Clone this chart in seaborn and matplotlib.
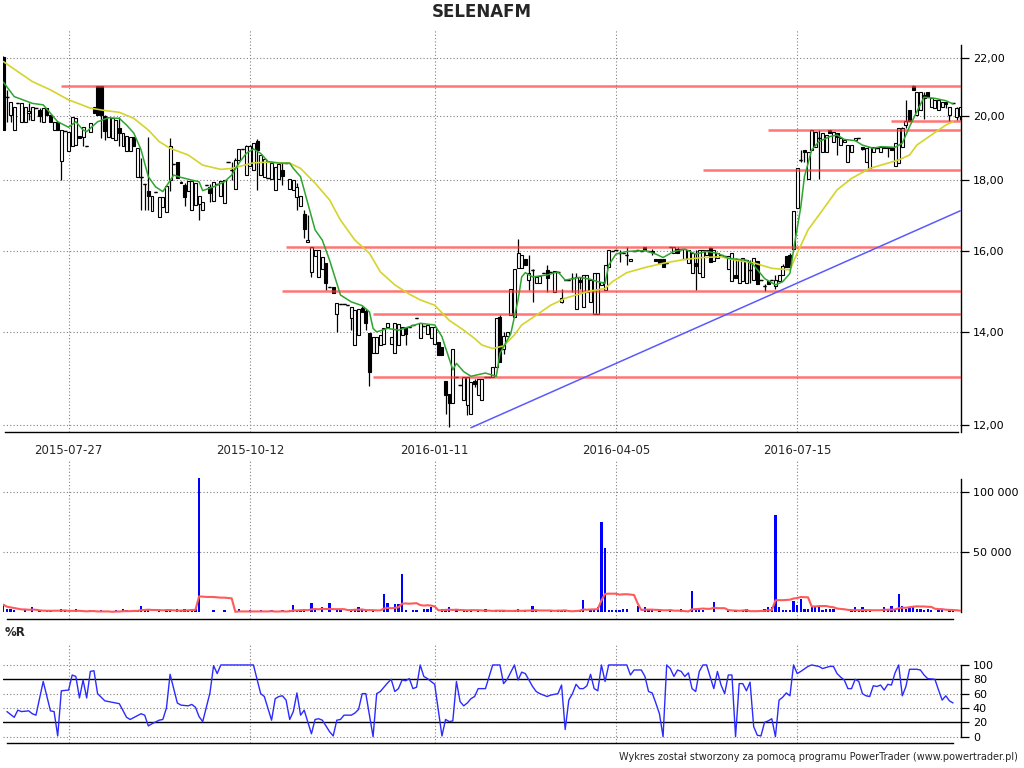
import numpy as np
import pandas as pd
import matplotlib
matplotlib.use("Agg")
import matplotlib.pyplot as plt
from matplotlib.ticker import NullLocator
import seaborn as sns

# ---- session data (one entry per trading session on the chart) ----
opens = [
    22.06, 20.64, 20.03, 19.54, 20.42, 19.81, 19.81, 20.10, 19.87, 20.28,
    20.20, 19.81, 20.28, 20.03, 19.54, 19.81, 18.56, 19.50, 18.87, 19.02,
    19.07, 19.35, 19.31, 19.02, 19.49, 20.31, 21.02, 21.02, 20.00, 19.31,
    19.28, 19.23, 19.60, 19.02, 18.87, 18.87, 19.31, 18.07, 18.07, 17.86,
    17.67, 17.10, 17.64, 16.93, 17.20, 17.07, 18.00, 18.46, 18.53, 17.90,
    17.85, 17.67, 17.12, 17.27, 17.30, 17.12, 17.85, 17.80, 17.37, 17.86,
    17.53, 17.33, 18.53, 18.30, 17.74, 18.60, 18.93, 18.14, 18.41, 18.29,
    19.19, 18.14, 18.09, 18.06, 18.01, 17.70, 18.01, 18.30, 18.50, 17.72,
    17.70, 17.50, 17.23, 17.00, 16.23, 15.46, 15.87, 15.33, 15.52, 15.68,
    15.07, 15.07, 14.43, 14.67, 14.65, 14.63, 14.32, 13.70, 13.93, 14.57,
    14.50, 13.98, 13.53, 13.51, 13.70, 13.73, 14.11, 13.73, 13.53, 13.70,
    13.93, 14.10, 14.12, 14.15, 14.32, 13.87, 14.14, 13.96, 13.85, 13.73,
    13.77, 13.66, 12.91, 12.64, 12.45, 13.00, 12.82, 12.52, 12.41, 12.22,
    12.90, 12.61, 12.52, 13.00, 13.00, 13.00, 13.21, 14.34, 13.60, 13.90,
    14.39, 14.35, 15.55, 15.55, 15.78, 15.25, 15.51, 15.17, 15.17, 15.44,
    15.50, 15.46, 14.96, 15.46, 14.72, 15.25, 15.25, 15.30, 14.55, 15.25,
    14.59, 14.96, 14.72, 14.42, 14.43, 15.13, 15.00, 15.59, 16.00, 16.02,
    15.95, 15.95, 15.90, 15.74, 15.99, 16.02, 16.00, 16.10, 16.00, 16.00,
    15.80, 15.80, 15.78, 15.70, 16.10, 15.94, 16.05, 16.05, 15.80, 15.69,
    15.44, 15.70, 15.42, 15.32, 15.89, 16.07, 15.73, 15.82, 15.90, 15.88,
    15.54, 15.22, 15.37, 15.18, 15.22, 15.18, 15.50, 15.26, 15.73, 15.26,
    15.10, 15.22, 15.26, 15.10, 15.22, 15.37, 15.86, 15.90, 16.06, 17.17,
    18.60, 18.90, 18.03, 18.90, 19.01, 19.30, 18.85, 18.85, 19.54, 19.17,
    19.43, 19.06, 19.17, 18.54, 18.85, 19.22, 19.28, 19.00, 18.54, 18.34,
    18.85, 18.96, 18.83, 19.01, 19.01, 19.01, 18.40, 18.50, 19.01, 19.70,
    20.20, 21.02, 20.03, 20.20, 20.70, 20.82, 20.31, 20.25, 20.20, 20.31,
    20.45, 20.03, 20.42, 19.98, 20.00,
]
highs = [
    22.10, 20.87, 20.46, 20.31, 20.42, 20.42, 20.31, 20.42, 20.31, 20.28,
    20.28, 20.25, 20.28, 20.03, 19.81, 19.81, 19.54, 19.50, 19.49, 19.98,
    19.92, 19.35, 19.63, 19.02, 19.78, 20.31, 21.02, 21.02, 20.03, 19.98,
    19.92, 19.87, 19.98, 19.44, 19.35, 19.31, 19.31, 18.97, 18.66, 17.88,
    19.31, 17.53, 17.64, 17.48, 17.48, 17.81, 19.30, 18.46, 18.53, 17.95,
    17.90, 17.97, 17.97, 17.90, 17.53, 17.34, 17.85, 17.88, 17.93, 17.86,
    17.97, 18.00, 18.53, 18.53, 18.65, 18.93, 18.93, 19.05, 19.05, 19.12,
    19.25, 18.75, 18.62, 18.06, 18.50, 18.39, 18.48, 18.50, 18.50, 18.01,
    17.99, 17.89, 17.52, 17.12, 16.98, 16.11, 16.03, 16.03, 15.85, 15.68,
    15.07, 15.07, 14.69, 14.67, 14.65, 14.63, 14.59, 14.51, 14.55, 14.60,
    14.55, 13.98, 13.89, 13.89, 13.93, 14.08, 14.21, 13.89, 14.20, 14.18,
    14.12, 14.12, 14.12, 14.15, 14.32, 14.20, 14.14, 14.15, 14.12, 14.12,
    13.77, 13.66, 12.91, 12.64, 13.62, 13.00, 12.82, 13.00, 13.00, 12.89,
    12.96, 12.96, 12.96, 13.00, 13.00, 13.21, 14.32, 14.40, 14.00, 14.00,
    15.02, 15.52, 16.31, 15.89, 15.80, 15.89, 15.52, 15.33, 15.35, 15.44,
    15.63, 15.46, 15.49, 15.46, 15.02, 15.25, 15.25, 15.42, 15.42, 15.33,
    15.38, 15.38, 15.25, 15.42, 15.44, 15.21, 15.63, 16.02, 16.00, 16.02,
    16.03, 15.95, 16.10, 15.80, 15.99, 16.02, 16.00, 16.10, 16.00, 16.05,
    15.80, 15.80, 15.78, 15.70, 16.10, 16.10, 16.10, 16.05, 16.05, 16.02,
    15.94, 16.02, 16.03, 16.03, 16.03, 16.10, 16.03, 15.94, 15.90, 15.88,
    15.86, 15.94, 15.82, 15.77, 15.82, 15.77, 15.77, 15.82, 15.73, 15.26,
    15.14, 15.22, 15.26, 15.39, 15.39, 15.66, 15.86, 15.94, 17.08, 18.34,
    18.92, 18.92, 18.85, 19.54, 19.49, 19.54, 19.43, 19.38, 19.54, 19.49,
    19.43, 19.28, 19.22, 19.06, 19.06, 19.28, 19.28, 19.01, 18.96, 19.01,
    19.01, 18.96, 19.01, 19.01, 19.01, 19.01, 19.12, 19.60, 19.65, 20.55,
    20.20, 21.05, 20.82, 20.82, 20.82, 20.82, 20.60, 20.53, 20.53, 20.48,
    20.48, 20.31, 20.42, 20.30, 20.31,
]
lows = [
    19.54, 19.81, 19.81, 19.54, 20.42, 19.81, 19.81, 19.87, 19.87, 20.28,
    19.81, 19.81, 20.03, 19.81, 19.54, 19.54, 17.99, 19.50, 18.87, 19.02,
    19.07, 19.27, 19.02, 19.02, 19.49, 20.11, 20.03, 19.28, 19.23, 19.31,
    19.28, 19.23, 19.02, 19.02, 18.87, 18.87, 19.02, 18.07, 17.12, 17.12,
    17.12, 17.10, 17.64, 16.93, 17.20, 17.07, 17.67, 18.46, 18.04, 17.90,
    17.25, 17.67, 17.12, 17.27, 16.84, 17.12, 17.85, 17.34, 17.37, 17.86,
    17.53, 17.33, 18.53, 18.00, 17.74, 18.60, 18.93, 18.14, 18.41, 18.29,
    17.70, 18.14, 18.09, 18.06, 18.01, 17.70, 18.01, 17.85, 18.50, 17.72,
    17.70, 17.12, 17.23, 16.34, 16.23, 15.33, 15.87, 15.33, 15.52, 15.00,
    15.07, 14.92, 14.00, 14.67, 14.65, 14.63, 14.04, 13.70, 13.93, 14.47,
    14.04, 12.80, 13.53, 13.51, 13.70, 13.73, 14.11, 13.73, 13.53, 13.70,
    13.93, 13.70, 14.12, 14.15, 14.32, 13.87, 14.14, 13.96, 13.85, 13.73,
    13.47, 13.47, 12.23, 11.97, 12.45, 13.00, 12.82, 12.52, 12.20, 12.22,
    12.78, 12.61, 12.52, 13.00, 13.00, 13.00, 13.21, 13.32, 13.50, 13.90,
    14.39, 14.35, 15.55, 15.55, 15.63, 15.00, 14.72, 15.17, 15.17, 15.44,
    14.96, 15.46, 14.96, 15.46, 14.69, 15.25, 15.25, 14.96, 14.55, 15.04,
    14.59, 14.96, 14.72, 14.42, 14.43, 15.13, 15.00, 15.59, 16.00, 16.02,
    15.72, 15.95, 15.63, 15.74, 15.99, 16.02, 16.00, 16.02, 16.00, 15.90,
    15.74, 15.70, 15.59, 15.70, 16.10, 15.94, 15.96, 16.05, 15.80, 15.69,
    15.44, 15.00, 15.42, 15.32, 15.89, 15.72, 15.73, 15.82, 15.90, 15.88,
    15.54, 15.22, 15.30, 15.18, 15.22, 15.18, 15.18, 15.26, 15.14, 15.26,
    14.98, 15.14, 15.26, 15.02, 15.22, 15.37, 15.58, 15.58, 16.06, 17.17,
    18.54, 18.54, 18.03, 18.90, 19.01, 18.01, 18.85, 18.85, 19.45, 19.17,
    18.75, 19.06, 19.17, 18.54, 18.85, 19.22, 19.28, 18.90, 18.54, 18.34,
    18.85, 18.96, 18.83, 18.96, 18.70, 18.90, 18.40, 18.50, 19.01, 19.60,
    19.82, 20.88, 20.03, 20.20, 19.90, 20.63, 20.31, 20.25, 20.20, 20.31,
    20.25, 19.85, 20.42, 19.87, 19.87,
]
closes = [
    19.54, 20.64, 20.46, 20.31, 20.42, 20.42, 20.31, 20.15, 20.31, 20.28,
    20.00, 20.25, 20.03, 19.81, 19.81, 19.54, 19.54, 19.50, 19.49, 19.98,
    19.92, 19.27, 19.63, 19.02, 19.78, 20.11, 20.03, 20.03, 19.50, 19.98,
    19.92, 19.87, 19.45, 19.44, 19.35, 19.31, 19.02, 18.97, 18.07, 17.86,
    17.53, 17.53, 17.64, 17.48, 17.48, 17.81, 19.02, 18.46, 18.04, 17.93,
    17.50, 17.97, 17.97, 17.90, 17.53, 17.34, 17.85, 17.60, 17.93, 17.86,
    17.97, 17.99, 18.53, 18.30, 18.60, 18.93, 18.93, 19.03, 19.03, 19.12,
    18.91, 18.75, 18.62, 18.06, 18.50, 18.39, 18.48, 18.10, 18.50, 18.01,
    17.99, 17.80, 17.52, 16.60, 16.29, 16.11, 16.03, 16.03, 15.85, 15.17,
    15.07, 14.92, 14.69, 14.67, 14.65, 14.63, 14.59, 14.51, 14.55, 14.47,
    14.20, 13.10, 13.89, 13.89, 13.93, 14.08, 14.21, 13.89, 14.20, 14.18,
    14.12, 13.95, 14.12, 14.15, 14.32, 14.20, 14.14, 14.15, 14.12, 14.12,
    13.47, 13.47, 12.61, 12.44, 13.62, 13.00, 12.82, 13.00, 13.00, 12.89,
    12.85, 12.96, 12.96, 13.00, 13.00, 13.21, 14.32, 13.32, 13.90, 14.00,
    15.02, 15.52, 15.96, 15.89, 15.63, 15.44, 15.51, 15.33, 15.35, 15.44,
    15.30, 15.46, 15.49, 15.46, 14.80, 15.25, 15.25, 15.30, 15.33, 15.20,
    15.38, 15.38, 15.25, 15.42, 15.44, 15.21, 15.63, 16.02, 16.00, 16.02,
    15.95, 15.95, 15.90, 15.80, 15.99, 16.02, 16.00, 16.02, 16.00, 15.98,
    15.74, 15.70, 15.59, 15.70, 16.10, 16.10, 15.96, 16.05, 16.05, 16.02,
    15.94, 15.60, 16.03, 16.03, 16.03, 15.72, 16.03, 15.94, 15.90, 15.88,
    15.86, 15.94, 15.30, 15.77, 15.82, 15.77, 15.50, 15.82, 15.14, 15.26,
    15.10, 15.14, 15.26, 15.26, 15.39, 15.62, 15.58, 15.58, 17.08, 18.34,
    18.60, 18.83, 18.85, 19.54, 19.49, 19.30, 19.43, 19.38, 19.45, 19.49,
    19.33, 19.28, 19.22, 19.06, 19.06, 19.28, 19.28, 18.95, 18.96, 19.01,
    19.01, 18.96, 19.01, 18.96, 18.96, 18.90, 19.12, 19.60, 19.60, 19.85,
    19.82, 20.88, 20.82, 20.82, 20.60, 20.63, 20.60, 20.53, 20.53, 20.48,
    20.40, 20.31, 20.42, 20.25, 20.30,
]
volumes = [
    6400, 3000, 3000, 2200, 0, 0, 2200, 0, 4200, 0,
    2200, 0, 2200, 2200, 0, 0, 3000, 2200, 0, 0,
    3000, 0, 0, 0, 2200, 0, 0, 2200, 0, 0,
    0, 2200, 0, 3000, 2200, 0, 2200, 2200, 5600, 2200,
    2200, 0, 0, 2200, 0, 2200, 2200, 0, 3000, 2200,
    3000, 2200, 3000, 3000, 112000, 0, 0, 0, 2200, 0,
    0, 2200, 0, 0, 0, 3000, 0, 0, 2200, 0,
    0, 2200, 0, 0, 2200, 0, 0, 2200, 0, 2200,
    6400, 2200, 2200, 2200, 0, 7800, 2200, 0, 4200, 0,
    7800, 0, 2200, 2200, 0, 0, 2200, 3000, 4200, 2200,
    2200, 0, 2200, 0, 0, 15500, 7800, 0, 7200, 7200,
    32000, 2200, 0, 2200, 2200, 0, 3000, 3000, 4500, 0,
    0, 3000, 2200, 4200, 0, 2200, 0, 2200, 2200, 2200,
    0, 2200, 0, 3000, 0, 0, 2200, 2200, 2200, 0,
    0, 2200, 3000, 0, 2200, 0, 5600, 2200, 0, 0,
    0, 2200, 0, 2200, 2200, 2200, 0, 0, 2200, 2200,
    10500, 0, 2200, 3000, 4200, 75000, 54000, 2200, 2200, 2200,
    2200, 3000, 3000, 0, 0, 5000, 0, 4200, 2200, 3000,
    0, 2200, 0, 0, 2200, 0, 0, 3000, 0, 0,
    18000, 3000, 3000, 2200, 0, 0, 8300, 0, 0, 0,
    2200, 0, 2200, 0, 2200, 3000, 0, 0, 0, 2200,
    3000, 4200, 4200, 81000, 4200, 2200, 2200, 2200, 9700, 6400,
    11000, 3000, 3000, 5000, 4200, 5000, 2200, 3000, 3000, 3000,
    0, 0, 0, 0, 2200, 4200, 2200, 4200, 2200, 2200,
    0, 0, 0, 4200, 2200, 5600, 3000, 15500, 5000, 3000,
    4200, 4200, 3000, 3000, 2200, 3000, 2200, 0, 2200, 2200,
    0, 2200, 2200, 0, 0,
]

# date labels under the price panel (session index -> date)
tick_bars = [18, 68, 119, 169, 219]
tick_labels = ["2015-07-27", "2015-10-12", "2016-01-11", "2016-04-05", "2016-07-15"]

# moving averages (session index, price)
fast_ma_bars = [0, 3, 8, 11, 13, 15, 18, 20, 22, 23, 26, 29, 32, 34, 36, 38, 40, 42, 44, 47,
                49, 52, 54, 55, 58, 61, 63, 65, 67, 69, 71, 73, 76, 79, 80, 82, 84, 86, 88, 90,
                92, 93, 96, 99, 101, 102, 103, 106, 109, 112, 115, 119, 121, 124, 125, 127, 129, 133, 136, 137,
                140, 142, 143, 144, 146, 150, 153, 155, 159, 162, 164, 166, 167, 169, 172, 177, 180, 182, 185, 188,
                191, 194, 197, 200, 205, 207, 210, 213, 215, 217, 218, 220, 221, 223, 225, 228, 230, 232, 235, 237,
                240, 242, 246, 248, 250, 252, 254, 257, 260, 262]
fast_ma = [21.15, 20.65, 20.42, 20.37, 20.09, 19.81, 19.63, 19.81, 19.54, 19.49,
           19.81, 19.94, 19.92, 19.70, 19.44, 18.91, 18.09, 17.79, 17.65, 18.14,
           18.07, 17.99, 17.94, 17.68, 17.79, 17.94, 18.14, 18.50, 18.80, 18.94,
           18.80, 18.55, 18.50, 18.50, 18.34, 18.09, 17.31, 16.57, 16.29, 15.76,
           15.17, 14.88, 14.71, 14.62, 14.47, 14.08, 14.00, 14.08, 14.04, 14.12,
           14.20, 14.16, 13.89, 13.15, 13.29, 13.11, 13.01, 13.08, 13.01, 13.51,
           13.96, 14.76, 15.33, 15.44, 15.33, 15.38, 15.46, 15.25, 15.32, 15.27,
           15.21, 15.17, 15.63, 15.92, 15.99, 16.01, 15.92, 15.83, 15.99, 16.05,
           15.92, 15.99, 15.94, 15.81, 15.76, 15.63, 15.29, 15.13, 15.21, 15.42,
           16.03, 17.21, 18.09, 18.91, 19.17, 19.33, 19.38, 19.24, 19.20, 19.06,
           18.96, 19.01, 18.99, 19.12, 19.65, 20.14, 20.63, 20.59, 20.51, 20.40]
slow_ma_bars = [0, 4, 8, 13, 18, 21, 24, 28, 32, 36, 40, 43, 46, 51, 55, 60, 63, 69, 73, 79,
                82, 86, 90, 93, 97, 101, 104, 108, 112, 115, 119, 123, 127, 130, 132, 135, 138, 141, 143, 147,
                151, 155, 158, 162, 166, 168, 172, 177, 182, 188, 193, 198, 202, 207, 212, 217, 219, 222, 226, 230,
                234, 239, 244, 247, 250, 252, 256, 260, 262]
slow_ma = [21.88, 21.52, 21.17, 20.88, 20.54, 20.40, 20.26, 20.18, 20.12, 19.92,
           19.54, 19.17, 18.96, 18.75, 18.44, 18.31, 18.34, 18.51, 18.53, 18.50,
           18.34, 17.90, 17.41, 16.84, 16.29, 15.94, 15.46, 15.13, 14.90, 14.76,
           14.63, 14.27, 14.04, 13.85, 13.70, 13.62, 13.68, 13.93, 14.16, 14.39,
           14.63, 14.80, 14.88, 14.98, 15.04, 15.21, 15.44, 15.57, 15.68, 15.78,
           15.83, 15.85, 15.76, 15.69, 15.55, 15.51, 15.94, 16.57, 17.12, 17.70,
           18.04, 18.34, 18.50, 18.60, 18.75, 19.06, 19.38, 19.70, 19.81]

# support / resistance levels: price and the session they start from
level_prices = [21.0, 19.85, 19.54, 18.3, 16.1, 14.97, 14.41, 12.99]
level_start = [16, 245, 211, 193, 78, 77, 102, 102]

# trend line (session index, price)
trend_bars = [129, 264]
trend_prices = [11.95, 17.1]

# Williams %R
wr_bars = [1, 3, 4, 5, 7, 8, 9, 11, 13, 14,
           15, 16, 18, 19, 20, 21, 22, 23, 24, 25,
           26, 28, 31, 32, 34, 35, 38, 39, 40, 41,
           43, 44, 45, 46, 48, 49, 51, 52, 53, 54,
           55, 57, 58, 59, 60, 69, 71, 72, 74, 75,
           76, 77, 78, 79, 80, 81, 82, 83, 85, 86,
           87, 88, 90, 91, 92, 93, 94, 96, 97, 98,
           99, 100, 102, 103, 104, 106, 107, 108, 109, 110,
           111, 112, 113, 114, 115, 116, 117, 118, 119, 121,
           122, 123, 124, 125, 126, 127, 128, 129, 130, 131,
           133, 135, 137, 138, 139, 141, 142, 143, 144, 146,
           147, 148, 150, 151, 153, 154, 155, 156, 157, 158,
           159, 160, 161, 162, 163, 164, 165, 166, 167, 169,
           171, 172, 173, 174, 176, 177, 178, 179, 180, 181,
           182, 183, 184, 185, 186, 187, 188, 189, 190, 191,
           192, 193, 194, 196, 197, 198, 199, 200, 201, 202,
           203, 204, 205, 206, 207, 208, 209, 210, 211, 212,
           213, 214, 215, 216, 217, 218, 219, 220, 222, 223,
           225, 226, 228, 229, 230, 231, 232, 233, 234, 235,
           236, 237, 238, 239, 240, 241, 242, 243, 244, 245,
           246, 247, 248, 249, 250, 252, 253, 254, 255, 257,
           258, 259, 260, 261, 262]
wr_vals = [35, 27, 37, 35, 36, 32, 30, 77, 36, 35,
           1, 64, 65, 86, 84, 54, 79, 54, 91, 92,
           60, 50, 47, 46, 27, 24, 32, 30, 15, 18,
           23, 24, 40, 87, 47, 44, 43, 45, 41, 28,
           21, 61, 99, 88, 100, 100, 60, 56, 23, 53,
           56, 57, 51, 24, 35, 61, 30, 37, 4, 24,
           25, 23, 7, 1, 23, 24, 30, 30, 33, 38,
           60, 60, 0, 60, 63, 75, 80, 63, 67, 79,
           78, 81, 67, 69, 100, 84, 81, 77, 73, 1,
           24, 21, 22, 77, 49, 43, 47, 53, 56, 67,
           67, 100, 100, 74, 80, 100, 79, 90, 88, 70,
           63, 60, 56, 58, 60, 72, 10, 51, 60, 73,
           67, 67, 71, 87, 67, 64, 100, 77, 100, 100,
           100, 100, 86, 93, 93, 84, 63, 61, 47, 32,
           0, 100, 95, 84, 93, 91, 84, 89, 67, 63,
           91, 100, 100, 67, 91, 72, 60, 86, 86, 0,
           74, 74, 64, 76, 14, 2, 1, 20, 22, 25,
           0, 51, 55, 61, 57, 100, 88, 91, 98, 100,
           98, 95, 98, 98, 88, 83, 79, 67, 67, 80,
           77, 60, 57, 56, 71, 70, 72, 65, 73, 72,
           89, 100, 57, 70, 94, 94, 93, 86, 81, 80,
           65, 51, 57, 50, 47]

# ---- styling ----
sns.set_style("white")
plt.rcParams["font.family"] = ["DejaVu Sans"]

GRID = dict(color="#808080", linestyle=(0, (1, 2)), linewidth=0.8)
n = len(closes)
idx = np.arange(n)
x_left, x_right = -0.1, n - 0.8

fig = plt.figure(figsize=(10.24, 7.68), dpi=100)
ax = fig.add_axes([0.0029, 0.4375, 0.9356, 0.5234])
ax_v = fig.add_axes([0.0029, 0.1936, 0.9356, 0.2061])
ax_r = fig.add_axes([0.0029, 0.0322, 0.9356, 0.1280])


def setup_panel(a):
    a.set_xlim(x_left, x_right)
    a.set_xticks(tick_bars)
    a.grid(True, **GRID)
    a.set_axisbelow(True)
    a.spines["top"].set_visible(False)
    a.spines["left"].set_visible(False)
    for s in ("right", "bottom"):
        a.spines[s].set_color("black")
        a.spines[s].set_linewidth(1.0)
    a.yaxis.set_ticks_position("right")
    a.tick_params(axis="y", which="major", direction="out", length=5.5, width=0.9,
                  pad=3, labelsize=8, colors="black", right=True, left=False)
    a.tick_params(axis="x", length=0)
    a.set_xlabel("")
    a.set_ylabel("")


# ---- price panel ----
ax.set_yscale("log")
o, h, l, c = map(np.array, (opens, highs, lows, closes))
up = c >= o
ax.vlines(idx, l, h, color="black", linewidth=0.9, zorder=3)
ax.bar(idx, np.abs(c - o), bottom=np.minimum(o, c), width=0.8,
       color=np.where(up, "white", "black"), edgecolor="black", linewidth=0.8, zorder=4)
flat = c == o
ax.hlines(c[flat], idx[flat] - 0.45, idx[flat] + 0.45, color="black", linewidth=1.0, zorder=4)

ax.hlines(level_prices, level_start, x_right, colors="#ff3b3b", linewidth=1.8, alpha=0.7, zorder=5)
sns.lineplot(x=trend_bars, y=trend_prices, ax=ax, color="#5a5aff", linewidth=1.1,
             estimator=None, sort=False, zorder=5)
sns.lineplot(x=slow_ma_bars, y=slow_ma, ax=ax, color="#d4d42c", linewidth=1.2,
             estimator=None, sort=False, zorder=6)
sns.lineplot(x=fast_ma_bars, y=fast_ma, ax=ax, color="#2ea52e", linewidth=1.1,
             estimator=None, sort=False, zorder=6)

setup_panel(ax)
ax.set_ylim(11.866, 23.05)
price_ticks = [12, 14, 16, 18, 20, 22]
ax.set_yticks(price_ticks)
ax.set_yticklabels([f"{v:.2f}".replace(".", ",") for v in price_ticks])
ax.yaxis.set_minor_locator(NullLocator())
ax.set_xticklabels(tick_labels, fontsize=8.5)
ax.tick_params(axis="x", pad=9)
ax.spines["right"].set_bounds(11.866, 22.5)
ax.spines["bottom"].set_bounds(0.5, 263.4)

# ---- volume panel ----
vol_ma = pd.Series(volumes, dtype=float).rolling(10, min_periods=1).mean()
ax_v.bar(idx, volumes, width=0.62, color="#0000ff", linewidth=0, antialiased=False, zorder=3)
sns.lineplot(x=idx, y=vol_ma.values, ax=ax_v, color="#ff5a5a", linewidth=1.5,
             estimator=None, sort=False, zorder=4)
setup_panel(ax_v)
ax_v.set_ylim(-5830, 126100)
vol_ticks = [50000, 100000]
ax_v.set_yticks(vol_ticks)
ax_v.set_yticklabels([f"{v:,}".replace(",", " ") for v in vol_ticks])
ax_v.tick_params(axis="x", labelbottom=False)
ax_v.spines["right"].set_bounds(0, 111000)
ax_v.spines["bottom"].set_bounds(1.0, 262.0)

# ---- %R panel ----
sns.lineplot(x=wr_bars, y=wr_vals, ax=ax_r, color="#2b2bff", linewidth=1.0,
             estimator=None, sort=False, zorder=4)
setup_panel(ax_r)
ax_r.set_ylim(-9.2, 127.9)
ax_r.set_yticks([0, 20, 40, 60, 80, 100])
ax_r.set_yticklabels(["0", "20", "40", "60", "80", "100"])
for lvl in (20, 80):
    ax_r.axhline(lvl, color="black", linewidth=1.0, zorder=3)
ax_r.tick_params(axis="x", labelbottom=False)
ax_r.spines["right"].set_bounds(0, 100)
ax_r.spines["bottom"].set_bounds(1.0, 262.0)

# ---- texts ----
fig.text(0.4707, 1 - 12 / 768, "SELENAFM", ha="center", va="center",
         fontsize=12, fontweight="bold")
fig.text(5 / 1024, 1 - 632 / 768, "%R", ha="left", va="center",
         fontsize=8.5, fontweight="bold")
fig.text(1018 / 1024, 1 - 757 / 768,
         "Wykres został stworzony za pomocą programu PowerTrader (www.powertrader.pl)",
         ha="right", va="center", fontsize=7)

fig.savefig("out.png", dpi=100)
